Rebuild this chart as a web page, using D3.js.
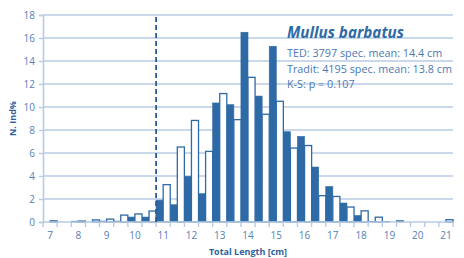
<!DOCTYPE html>
<html><head><meta charset="utf-8">
<script src="https://cdn.jsdelivr.net/npm/d3@7"></script>
<style>html,body{margin:0;padding:0;background:#fff;}svg{display:block;}</style>
</head><body><svg id="c" width="464" height="258"></svg>
<script>
const categories = ["7","7.5","8","8.5","9","9.5","10","10.5","11","11.5","12","12.5","13","13.5","14","14.5","15","15.5","16","16.5","17","17.5","18","18.5","19","19.5","20","20.5","21"];
const tedValues =    [0,0,0.07,0,0.08,0.08,0.43,0.43,1.9,1.5,3.97,2.46,10.35,10.2,16.5,10.95,15.28,7.85,7.44,4.78,3.08,1.65,0.56,0.05,0.05,0.13,0,0,0];
const traditValues = [0.1,0,0.08,0.18,0.25,0.6,0.7,0.95,3.25,6.52,8.83,6.14,11.17,8.9,12.58,9.37,10.5,6.43,6.65,2.29,2.22,1.3,0.97,0.42,0,0,0,0,0.2];
const seriesNames = ["TED","Tradit"];
const yTicks = [0,2,4,6,8,10,12,14,16,18];
const xLabels = ["7","8","9","10","11","12","13","14","15","16","17","18","19","20","21"];
const legalSize = "11";
const titleText = "Mullus barbatus";
const infoLines = ["TED: 3797 spec. mean: 14.4 cm","Tradit: 4195 spec. mean: 13.8 cm","K-S: p = 0.107"];
const xTitle = "Total Length [cm]";
const yTitle = "N. Ind%";

const svg = d3.select("#c");
const m = {l:43, r:453, t:15, b:222};
const blue = "#2e6aa5", grid = "#b7cbe3", tickCol = "#5580b8", titleCol = "#2f5f9a";
const font = "'Open Sans', sans-serif";

const x = d3.scaleBand().domain(categories).range([m.l, m.r]).padding(0);
const xi = d3.scaleBand().domain(seriesNames).range([0, x.bandwidth()]).padding(0);
const y = d3.scaleLinear().domain([0,18]).range([m.b, m.t]);

// gridlines
svg.append("g").selectAll("line").data(yTicks.filter(d=>d>0)).join("line")
  .attr("x1", m.l).attr("x2", m.r).attr("y1", d=>y(d)).attr("y2", d=>y(d))
  .attr("stroke", grid).attr("stroke-width", 1.6);

// y axis
const ya = svg.append("g").attr("transform", `translate(${m.l},0)`)
  .call(d3.axisLeft(y).tickValues(yTicks).tickSize(4).tickPadding(4));
ya.select(".domain").attr("stroke", grid).attr("stroke-width", 1.6);
ya.selectAll(".tick line").attr("stroke", grid).attr("stroke-width", 1.4);
ya.selectAll("text").attr("fill", tickCol).style("font-family", font).style("font-size", "10px");

// bars
const data = categories.map((c,i)=>({c, ted: tedValues[i], tradit: traditValues[i]}));
svg.append("g").selectAll("rect").data(data.filter(d=>d.ted>0)).join("rect")
  .attr("x", d=>x(d.c)+xi("TED")).attr("width", xi.bandwidth())
  .attr("y", d=>y(d.ted)).attr("height", d=>y(0)-y(d.ted))
  .attr("fill", blue).attr("stroke", blue).attr("stroke-width", 0.6);
svg.append("g").selectAll("rect").data(data.filter(d=>d.tradit>0)).join("rect")
  .attr("x", d=>x(d.c)+xi("Tradit")).attr("width", xi.bandwidth())
  .attr("y", d=>y(d.tradit)).attr("height", d=>y(0)-y(d.tradit))
  .attr("fill", "#fff").attr("stroke", blue).attr("stroke-width", 1.3);

// x axis
const xa = svg.append("g").attr("transform", `translate(0,${m.b})`)
  .call(d3.axisBottom(x).tickValues(xLabels).tickSize(0).tickPadding(10));
xa.select(".domain").remove();
xa.selectAll("text").attr("fill", tickCol).style("font-family", font).style("font-size", "10px");
svg.append("line").attr("x1", m.l).attr("x2", m.r).attr("y1", m.b).attr("y2", m.b)
  .attr("stroke", grid).attr("stroke-width", 1.6);
svg.append("g").selectAll("line").data(categories.concat(["end"])).join("line")
  .attr("x1", (d,i)=>m.l + i*x.step()).attr("x2", (d,i)=>m.l + i*x.step())
  .attr("y1", m.b).attr("y2", m.b+5).attr("stroke", grid).attr("stroke-width", 1.4);

// dashed legal size line
svg.append("line").attr("x1", x(legalSize)).attr("x2", x(legalSize))
  .attr("y1", m.t+2).attr("y2", m.b)
  .attr("stroke", "#2a5a93").attr("stroke-width", 1.8).attr("stroke-dasharray", "5,3");

// titles
svg.append("text").attr("x", (m.l+m.r)/2).attr("y", 255).attr("text-anchor","middle")
  .attr("fill", titleCol).style("font-family", font).style("font-weight","bold").style("font-size","9px").text(xTitle);
svg.append("text").attr("transform", `translate(16,${(m.t+m.b)/2}) rotate(-90)`).attr("text-anchor","middle")
  .attr("fill", titleCol).style("font-family", font).style("font-weight","bold").style("font-size","9px").text(yTitle);

// annotation
svg.append("text").attr("x", 287).attr("y", 38).attr("fill", blue)
  .style("font-family", font).style("font-weight","bold").style("font-style","italic").style("font-size","15.2px").text(titleText);
svg.append("g").selectAll("text").data(infoLines).join("text")
  .attr("x", 287).attr("y", (d,i)=>57 + i*15.5).attr("fill", "#4a78b2")
  .style("font-family", font).style("font-size","10.8px").text(d=>d);
</script></body></html>
